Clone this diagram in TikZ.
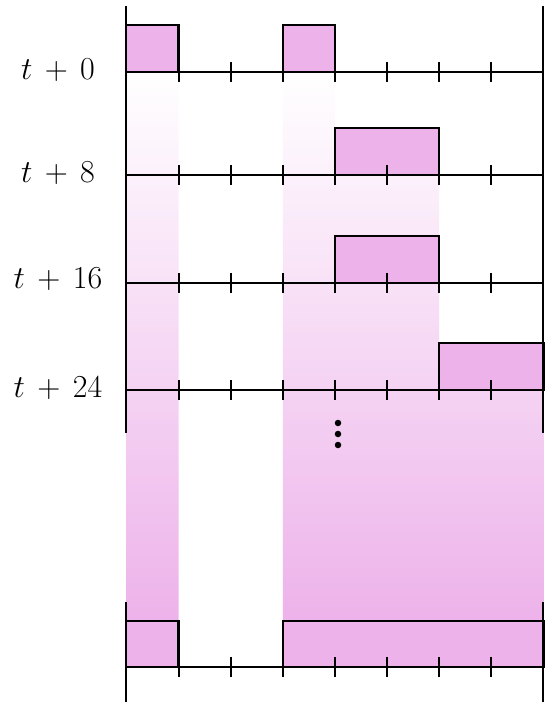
\RequirePackage{fix-cm}
\documentclass[tikz,border=0pt]{standalone}
\usetikzlibrary{calc}
\definecolor{boxpink}{RGB}{237,178,234}
\tikzset{
  axisline/.style={line width=2pt, black},
  tickmark/.style={line width=2pt, black},
  slotbox/.style={draw=black, line width=2.2pt, fill=boxpink},
  fadecol/.style={top color=white, bottom color=boxpink, draw=none},
  lbl/.style={anchor=base, inner sep=0pt, font=\fontsize{32}{38}\selectfont},
  dotmark/.style={circle, fill=black, inner sep=0pt, minimum size=6.5pt}
}
\begin{document}
\begin{tikzpicture}[x=1pt,y=-1pt]
\useasboundingbox (0,0) rectangle (546,702);
\def\xa{126}\def\xb{178.5}\def\xc{230.6}\def\xd{282.8}\def\xe{334.9}
\def\xf{387}\def\xg{439.1}\def\xh{491.3}\def\xi{543.4}
% gradient shading under the slots
\shade[fadecol] (\xa,72) -- (\xb,72) -- (\xb,621) -- (\xa,621) -- cycle
  (\xd,72) -- (\xe,72) -- (\xe,175) -- (\xg,175) -- (\xg,390) -- (\xi,390) -- (\xi,621) -- (\xd,621) -- cycle;
% vertical axes
\draw[axisline] (\xa,6) -- (\xa,433);
\draw[axisline] (\xa,602) -- (\xa,702);
\draw[axisline] (\xi,6) -- (\xi,433);
\draw[axisline] (\xi,602) -- (\xi,702);
% rows
\foreach \yy in {72,175,283,390,667}{
  \draw[axisline] (\xa,\yy) -- (\xi,\yy);
}
% slot boxes
\draw[slotbox] (\xa,72) rectangle (\xb,25);
\draw[slotbox] (\xd,72) rectangle (\xe,25);
\draw[slotbox] (\xe,175) rectangle (\xg,128);
\draw[slotbox] (\xe,283) rectangle (\xg,236);
\draw[slotbox] (\xg,390) rectangle (\xi,343);
\draw[slotbox] (\xa,667) rectangle (\xb,621);
\draw[slotbox] (\xd,667) rectangle (\xi,621);
% ticks on top of boxes
\foreach \yy in {72,175,283,390,667}{
  \foreach \xx in {\xb,\xc,\xd,\xe,\xf,\xg,\xh}{
    \draw[tickmark] (\xx,\yy-10) -- (\xx,\yy+10);
  }
}
% labels
\medmuskip=7mu
\node[lbl] (l0) at (58,79.5) {$t+0$};
\node[lbl] (l8) at (58,182.5) {$t+8$};
\node[lbl] (l16) at (58,288) {$t+16$};
\node[lbl] (l24) at (58,397.5) {$t+24$};
% vertical ellipsis
\node[dotmark] (d1) at (338,423) {};
\node[dotmark] (d2) at (338,434) {};
\node[dotmark] (d3) at (338,445) {};
\end{tikzpicture}
\end{document}
